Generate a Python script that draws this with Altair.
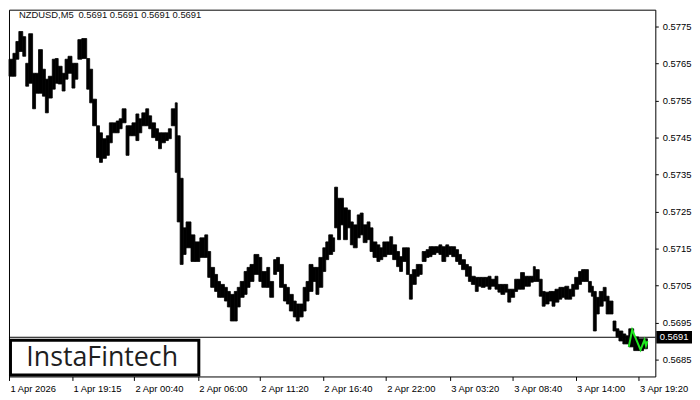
import altair as alt
import pandas as pd

chart_symbol = "NZDUSD,M5"
chart_quotes = "0.5691 0.5691 0.5691 0.5691"
brand = "InstaFintech"
bid = 0.5691

# groups of consecutive 5-minute bars: first bar number of each group, group high / low
bar_start = [0,4,7,10,14,17,20,24,27,30,34,37,40,44,47,50,54,57,60,64,67,70,74,79,82,85,89,92,95,99,
             102,105,109,112,115,119,122,125,129,132,135,139,142,145,149,152,155,159,162,165,169,171,174,177,180,185,189,194,199,202,
             205,209,212,215,219,222,225,229,232,235,239,242,245,249,254,257,262,265,269,272,275,279,282,285,289,292,295,299,302,305,
             309,312,315,319,322,325,329,331,334,337,340,344,347,350,354,357,360,364,367,370,374,377,380,384,387,390,394,397,400,404,
             407,410,414,417,420,424,427,430,434,437,440,444,447,450,454,457,460,464,467,470,474,477,480,484,487,490,494,497,500,504,
             507,510,514,517,520,524,527,530,533,535,539,542,545,549,552,555,559,562,565,569,572,575,579,582,585,589,592,594,597,600,
             604,607,610,614,617,620,624,627,630,635,640,645]
last_bar_end = 649
high = [0.57662,0.57678,0.57710,0.57737,0.57723,0.57651,0.57731,0.57624,0.57624,0.57688,0.57635,0.57608,0.57616,0.57662,0.57664,
        0.57643,0.57624,0.57662,0.57670,0.57651,0.57651,0.57715,0.57718,0.57664,0.57635,0.57554,0.57482,0.57463,0.57447,0.57455,
        0.57490,0.57490,0.57495,0.57501,0.57528,0.57482,0.57482,0.57490,0.57514,0.57501,0.57517,0.57528,0.57509,0.57490,0.57474,
        0.57463,0.57463,0.57463,0.57474,0.57528,0.57544,0.57455,0.57340,0.57206,0.57222,0.57187,0.57168,0.57179,0.57187,0.57142,
        0.57099,0.57080,0.57061,0.57053,0.57045,0.57034,0.57026,0.57034,0.57045,0.57061,0.57088,0.57099,0.57107,0.57134,0.57126,
        0.57088,0.57099,0.57061,0.57120,0.57126,0.57107,0.57053,0.57045,0.57026,0.57008,0.57000,0.57000,0.57045,0.57061,0.57107,
        0.57099,0.57099,0.57126,0.57152,0.57168,0.57187,0.57179,0.57316,0.57286,0.57286,0.57260,0.57254,0.57222,0.57214,0.57241,
        0.57246,0.57214,0.57222,0.57206,0.57168,0.57160,0.57152,0.57168,0.57168,0.57182,0.57160,0.57142,0.57128,0.57152,0.57152,
        0.57080,0.57093,0.57107,0.57107,0.57142,0.57147,0.57155,0.57155,0.57155,0.57160,0.57155,0.57160,0.57155,0.57155,0.57147,
        0.57134,0.57120,0.57107,0.57101,0.57075,0.57072,0.57072,0.57072,0.57072,0.57075,0.57067,0.57075,0.57053,0.57053,0.57053,
        0.57040,0.57040,0.57067,0.57067,0.57085,0.57075,0.57075,0.57075,0.57101,0.57093,0.57067,0.57034,0.57032,0.57034,0.57034,
        0.57040,0.57045,0.57045,0.57048,0.57040,0.57053,0.57072,0.57088,0.57093,0.57093,0.57061,0.57048,0.57034,0.57018,0.57034,
        0.57045,0.57021,0.57008,0.56954,0.56933,0.56927,0.56919,0.56914,0.56933,0.56911,0.56906,0.56906]
low = [0.57616,0.57616,0.57662,0.57683,0.57670,0.57589,0.57597,0.57528,0.57570,0.57570,0.57562,0.57517,0.57557,0.57581,0.57597,
       0.57595,0.57576,0.57608,0.57624,0.57584,0.57608,0.57662,0.57664,0.57581,0.57544,0.57482,0.57396,0.57383,0.57394,0.57402,
       0.57436,0.57463,0.57463,0.57474,0.57490,0.57402,0.57455,0.57455,0.57442,0.57463,0.57482,0.57482,0.57474,0.57450,0.57442,
       0.57420,0.57436,0.57442,0.57447,0.57482,0.57356,0.57222,0.57107,0.57134,0.57152,0.57115,0.57115,0.57126,0.57126,0.57072,
       0.57045,0.57034,0.57018,0.57018,0.57008,0.56992,0.56954,0.56954,0.56992,0.57018,0.57026,0.57045,0.57061,0.57080,0.57061,
       0.57045,0.57045,0.57018,0.57080,0.57088,0.57045,0.57008,0.57000,0.56981,0.56965,0.56954,0.56965,0.56981,0.57008,0.57034,
       0.57061,0.57026,0.57045,0.57088,0.57120,0.57134,0.57142,0.57206,0.57174,0.57214,0.57174,0.57206,0.57160,0.57152,0.57179,
       0.57187,0.57166,0.57174,0.57142,0.57126,0.57115,0.57120,0.57128,0.57134,0.57134,0.57120,0.57101,0.57088,0.57115,0.57080,
       0.57013,0.57053,0.57075,0.57080,0.57115,0.57126,0.57128,0.57134,0.57139,0.57134,0.57115,0.57128,0.57134,0.57128,0.57115,
       0.57107,0.57093,0.57075,0.57061,0.57053,0.57034,0.57048,0.57045,0.57048,0.57040,0.57048,0.57040,0.57032,0.57026,0.57032,
       0.57005,0.57018,0.57034,0.57040,0.57040,0.57048,0.57048,0.57059,0.57061,0.57061,0.57021,0.56994,0.57000,0.57008,0.56994,
       0.57005,0.57013,0.57018,0.57013,0.57013,0.57021,0.57040,0.57053,0.57061,0.57061,0.57032,0.57021,0.56927,0.56973,0.56994,
       0.57008,0.56973,0.56973,0.56927,0.56911,0.56900,0.56892,0.56892,0.56884,0.56874,0.56874,0.56879]

tick_bars = [0, 64, 127, 192, 255, 319, 383, 448, 512, 576, 640]
tick_labels = ["1 Apr 2026", "1 Apr 19:15", "2 Apr 00:40", "2 Apr 06:00", "2 Apr 11:20", "2 Apr 16:40",
               "2 Apr 22:00", "3 Apr 03:20", "3 Apr 08:40", "3 Apr 14:00", "3 Apr 19:20"]
price_ticks = [0.5685, 0.5695, 0.5705, 0.5715, 0.5725, 0.5735, 0.5745, 0.5755, 0.5765, 0.5775]

pattern_bar = [630, 633.5, 642, 646, 647.5, 649]
pattern_price = [0.56884, 0.56930, 0.56876, 0.56903, 0.56887, 0.56900]

bars = pd.DataFrame({"start": bar_start, "end": bar_start[1:] + [last_bar_end], "high": high, "low": low})
pattern = pd.DataFrame({"bar": pattern_bar, "price": pattern_price})

W, H = 652, 370
FONT = "Liberation Sans"
xscale = alt.Scale(domain=[0, 657], nice=False, zero=False)
yscale = alt.Scale(domain=[0.56804, 0.57796], nice=False, zero=False)

labels_js = "[" + ",".join("'" + s + "'" for s in tick_labels) + "]"
ticks_js = "[" + ",".join(str(t) for t in tick_bars) + "]"

xaxis = alt.Axis(values=tick_bars, labelExpr=f"{labels_js}[indexof({ticks_js}, datum.value)]",
                 labelAlign="left", labelBaseline="top", tickSize=4, labelPadding=3, labelOffset=1,
                 labelFlush=False, labelOverlap=False, domain=False, grid=False,
                 labelFont=FONT, labelFontSize=9.5, labelColor="black", tickColor="black")
yaxis = alt.Axis(orient="right", values=price_ticks, format=".4f", tickSize=3, labelPadding=4,
                 labelOverlap=False, domain=False, grid=False, labelFont=FONT, labelFontSize=9.5,
                 labelColor="black", tickColor="black", labelBaseline="middle")

candles = alt.Chart(bars).mark_rect(color="black", stroke="black", strokeWidth=0.8).encode(
    x=alt.X("start:Q", scale=xscale, axis=xaxis, title=None),
    x2="end:Q",
    y=alt.Y("high:Q", scale=yscale, axis=yaxis, title=None),
    y2="low:Q",
)

bid_line = alt.Chart(pd.DataFrame({"p": [bid]})).mark_rule(color="black", strokeWidth=1).encode(
    y=alt.Y("p:Q", scale=yscale)
)

pattern_line = alt.Chart(pattern).mark_line(color="#1fe81f", strokeWidth=2).encode(
    x=alt.X("bar:Q", scale=xscale), y=alt.Y("price:Q", scale=yscale)
)

symbol_txt = alt.Chart(pd.DataFrame({"t": [chart_symbol]})).mark_text(
    align="left", baseline="middle", font=FONT, fontSize=9.5, color="#111111"
).encode(x=alt.value(10), y=alt.value(5.5), text="t:N")
quotes_txt = alt.Chart(pd.DataFrame({"t": [chart_quotes]})).mark_text(
    align="left", baseline="middle", font=FONT, fontSize=9.5, color="#111111"
).encode(x=alt.value(70), y=alt.value(5.5), text="t:N")

logo_box = alt.Chart(pd.DataFrame({"a": [1]})).mark_rect(
    fill="white", stroke="black", strokeWidth=3
).encode(x=alt.value(1.5), x2=alt.value(191.5), y=alt.value(333.5), y2=alt.value(368.5))

logo_txt = alt.Chart(pd.DataFrame({"t": [brand]})).mark_text(
    align="center", baseline="middle", font="Open Sans", fontSize=27, color="#1e1e1e"
).encode(x=alt.value(94), y=alt.value(351), text="t:N")

bid_box = alt.Chart(pd.DataFrame({"a": [1]})).mark_rect(color="black").encode(
    x=alt.value(653), x2=alt.value(689),
    y=alt.datum(bid + 0.00017, scale=yscale), y2=alt.datum(bid - 0.00017)
)
bid_txt = alt.Chart(pd.DataFrame({"t": [f"{bid:.4f}"]})).mark_text(
    align="center", baseline="middle", font=FONT, fontSize=9.5, color="white"
).encode(x=alt.value(671), y=alt.datum(bid, scale=yscale), text="t:N")

chart = alt.layer(
    candles, bid_line, pattern_line, symbol_txt, quotes_txt, logo_box, logo_txt, bid_box, bid_txt
).properties(width=W, height=H, padding=0).configure_view(stroke="black", strokeWidth=1)

chart.save("out.html", embed_options={"renderer": "svg", "actions": False})
